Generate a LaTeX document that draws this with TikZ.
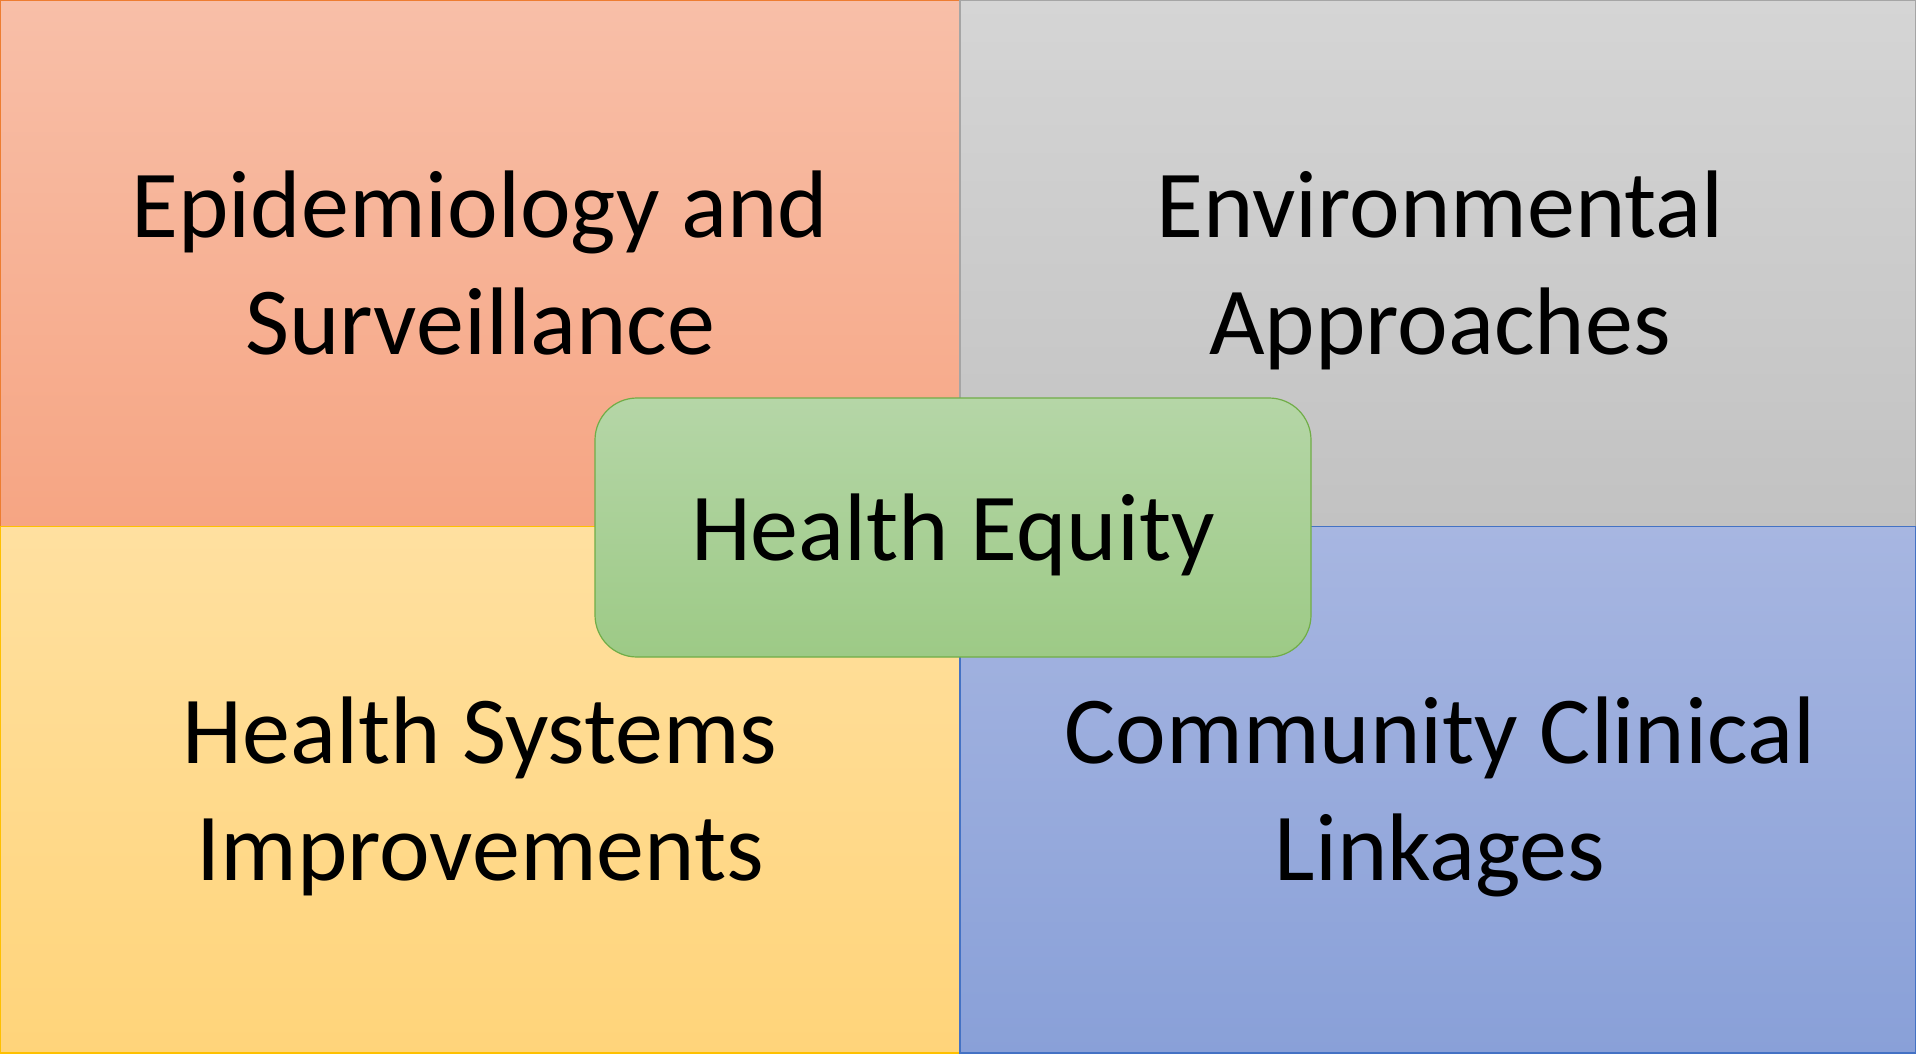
\documentclass[tikz,border=0pt]{standalone}
\usepackage{fontspec}
\setmainfont{Carlito}
\definecolor{orTop}{HTML}{F8BFA8}
\definecolor{orBot}{HTML}{F6A583}
\definecolor{orLine}{HTML}{ED7D31}
\definecolor{grTop}{HTML}{D5D5D5}
\definecolor{grBot}{HTML}{C2C2C2}
\definecolor{grLine}{HTML}{A5A5A5}
\definecolor{ylTop}{HTML}{FFE0A0}
\definecolor{ylBot}{HTML}{FFD47A}
\definecolor{ylLine}{HTML}{FFC000}
\definecolor{blTop}{HTML}{A7B6E1}
\definecolor{blBot}{HTML}{89A0D8}
\definecolor{blLine}{HTML}{4472C4}
\definecolor{gnTop}{HTML}{B5D6A7}
\definecolor{gnBot}{HTML}{9DCA86}
\definecolor{gnLine}{HTML}{70AD47}
\tikzset{
  quadL/.style={rectangle, inner sep=0pt, minimum width=960pt, minimum height=526.5pt, line width=1.2pt},
  quadR/.style={rectangle, inner sep=0pt, minimum width=956pt, minimum height=526.5pt, line width=1.2pt},
  lbl/.style={anchor=base, inner sep=0pt, align=center, font=\fontsize{96}{117}\selectfont},
  hub/.style={rectangle, rounded corners=42pt, inner sep=0pt, minimum width=716pt, minimum height=259pt, line width=1.2pt, draw=gnLine, top color=gnTop, bottom color=gnBot}
}
\begin{document}
\begin{tikzpicture}[x=1pt,y=-1pt]
\useasboundingbox (0,0) rectangle (1916,1053);
\node[quadL, draw=orLine, top color=orTop, bottom color=orBot] (q1) at (480,263.25) {};
\node[quadR, draw=grLine, top color=grTop, bottom color=grBot] (q2) at (1438,263.25) {};
\node[quadL, draw=ylLine, top color=ylTop, bottom color=ylBot] (q3) at (480,789.75) {};
\node[quadR, draw=blLine, top color=blTop, bottom color=blBot] (q4) at (1438,789.75) {};
\node[lbl] (t1) at (480,354) {Epidemiology and\\Surveillance};
\node[lbl] (t2) at (1440,354) {Environmental\\Approaches};
\node[lbl] (t3) at (480,880) {Health Systems\\Improvements};
\node[lbl] (t4) at (1440,880) {Community Clinical\\Linkages};
\node[hub] (hub) at (953,527.5) {};
\node[lbl] (th) at (953,560) {Health Equity};
\end{tikzpicture}
\end{document}
